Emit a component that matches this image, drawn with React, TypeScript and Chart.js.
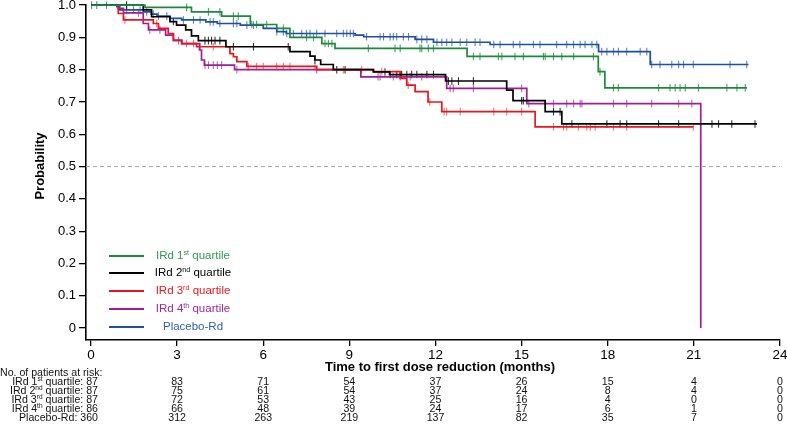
import React, { useEffect, useRef } from 'react';
import { Chart, registerables } from 'chart.js';

Chart.register(...registerables);

const FONT = '"Liberation Sans", Arial, Helvetica, sans-serif';

// Axis ticks
const xTicks = [0, 3, 6, 9, 12, 15, 18, 21, 24];
const yTicks = [0, 0.1, 0.2, 0.3, 0.4, 0.5, 0.6, 0.7, 0.8, 0.9, 1.0];
const yTickLabels = ['0', '0.1', '0.2', '0.3', '0.4', '0.5', '0.6', '0.7', '0.8', '0.9', '1.0'];

// IRd 1st quartile
const q1Times = [1.88, 3.5, 4.55, 5.55, 6.47, 6.93, 8.04, 8.5, 13.1, 17.67, 17.9];
const q1Surv = [0.993, 0.979, 0.966, 0.94, 0.928, 0.9, 0.881, 0.866, 0.841, 0.794, 0.744];
const q1End = 22.85;
const q1Censor = [3.33, 4.09, 4.49, 4.96, 5.13, 5.6, 5.77, 6.12, 6.7, 7.51, 7.75, 8.15, 8.27, 8.39, 9.66, 10.59, 10.77, 11.46, 11.52, 11.75, 11.93, 13.32, 13.55, 14.19, 14.31, 14.77, 15.06, 15.76, 15.82, 16.11, 16.4, 16.81, 17.5, 17.73, 18.2, 18.37, 19.77, 20.17, 20.35, 20.52, 20.7, 21.16, 22.15, 22.5, 22.79];

// IRd 2nd quartile
const q2Times = [1.82, 2.11, 2.75, 2.98, 3.3, 3.5, 3.74, 4.7, 6.93, 7.63, 7.8, 8.0, 8.44, 9.84, 10.4, 12.35, 14.48, 14.7, 15.82, 16.4];
const q2Surv = [0.985, 0.964, 0.949, 0.938, 0.923, 0.905, 0.89, 0.871, 0.856, 0.842, 0.83, 0.816, 0.8, 0.793, 0.785, 0.765, 0.737, 0.704, 0.67, 0.632];
const q2End = 23.2;
const q2Censor = [1.24, 2.87, 3.97, 4.09, 4.2, 4.32, 4.49, 4.96, 5.66, 6.87, 7.8, 8.56, 8.85, 10.24, 10.42, 10.65, 10.82, 11.0, 11.17, 11.35, 11.7, 11.93, 12.45, 12.57, 12.8, 13.32, 15.0, 15.06, 16.11, 16.34, 16.75, 17.97, 18.43, 18.66, 19.77, 20.47, 21.63, 21.86, 22.32, 23.13];

// IRd 3rd quartile
const q3Times = [0.95, 1.13, 2.17, 2.35, 2.69, 2.87, 3.16, 3.68, 4.84, 4.96, 5.08, 5.43, 7.86, 9.83, 10.77, 11.0, 11.29, 11.74, 12.22, 15.47];
const q3Surv = [0.974, 0.954, 0.943, 0.928, 0.912, 0.892, 0.881, 0.871, 0.85, 0.84, 0.825, 0.81, 0.8, 0.794, 0.773, 0.752, 0.732, 0.7, 0.67, 0.623];
const q3End = 20.98;
const q3Censor = [1.18, 2.29, 3.33, 3.57, 3.8, 4.26, 5.48, 5.77, 6.0, 6.47, 6.7, 6.93, 7.8, 8.79, 9.43, 10.13, 11.05, 11.8, 12.3, 12.39, 12.86, 14.03, 14.48, 15.0, 16.11, 16.46, 16.57, 16.98, 17.27, 17.39, 17.56, 18.2, 18.66, 20.98];

// IRd 4th quartile
const q4Times = [0.95, 1.13, 1.82, 2.0, 2.6, 2.87, 3.16, 3.78, 3.85, 3.95, 5.0, 9.4, 12.39, 15.18, 21.24];
const q4Surv = [0.99, 0.976, 0.943, 0.923, 0.907, 0.89, 0.881, 0.861, 0.83, 0.814, 0.8, 0.778, 0.742, 0.695, 0];
const q4End = 21.24;
const q4Censor = [1.65, 2.05, 2.4, 3.05, 3.97, 4.09, 4.26, 4.4, 4.55, 5.08, 7.86, 10.0, 10.07, 10.53, 10.77, 11.12, 11.52, 12.51, 12.62, 13.32, 15.0, 15.25, 15.82, 16.11, 16.57, 16.81, 17.04, 17.1, 18.2, 18.66, 19.53, 20.47, 20.93];

// Placebo-Rd
const pbTimes = [0.9, 1.0, 1.82, 2.1, 2.3, 2.75, 3.16, 4.0, 4.4, 5.2, 6.0, 6.47, 6.8, 9.2, 9.5, 11.29, 11.93, 13.9, 17.68, 19.48];
const pbSurv = [0.995, 0.985, 0.979, 0.972, 0.966, 0.959, 0.954, 0.948, 0.943, 0.938, 0.928, 0.918, 0.912, 0.907, 0.902, 0.894, 0.885, 0.878, 0.856, 0.816];
const pbEnd = 22.9;
const pbCensor = [0.02, 0.2, 0.54, 1.24, 1.48, 1.71, 1.94, 2.17, 2.35, 2.64, 3.22, 3.57, 3.8, 4.15, 4.26, 4.49, 4.96, 5.08, 5.43, 5.66, 6.47, 6.7, 6.82, 7.05, 7.34, 7.51, 7.63, 7.86, 8.15, 8.56, 8.79, 8.91, 9.03, 9.14, 9.6, 10.07, 10.19, 10.42, 10.53, 10.65, 10.88, 11.06, 11.35, 11.52, 11.7, 12.05, 12.22, 12.39, 12.57, 12.86, 13.09, 13.38, 13.55, 14.03, 14.25, 14.71, 14.94, 15.41, 15.64, 16.22, 16.57, 16.81, 17.04, 17.21, 17.45, 17.62, 17.79, 17.97, 18.2, 18.37, 18.66, 19.13, 19.36, 19.53, 19.82, 20.23, 20.47, 20.64, 20.98, 22.26, 22.84];

// Numbers at risk
const riskTimes = [0, 3, 6, 9, 12, 15, 18, 21, 24];
const riskQ1 = [87, 83, 71, 54, 37, 26, 15, 4, 0];
const riskQ2 = [87, 75, 61, 54, 37, 24, 8, 4, 0];
const riskQ3 = [87, 72, 53, 43, 25, 16, 4, 0, 0];
const riskQ4 = [86, 66, 48, 39, 24, 17, 6, 1, 0];
const riskPlacebo = [360, 312, 263, 219, 137, 82, 35, 7, 0];

type Part = { t: string; sup?: boolean };
const labelQ1: Part[] = [{ t: 'IRd 1' }, { t: 'st', sup: true }, { t: ' quartile' }];
const labelQ2: Part[] = [{ t: 'IRd 2' }, { t: 'nd', sup: true }, { t: ' quartile' }];
const labelQ3: Part[] = [{ t: 'IRd 3' }, { t: 'rd', sup: true }, { t: ' quartile' }];
const labelQ4: Part[] = [{ t: 'IRd 4' }, { t: 'th', sup: true }, { t: ' quartile' }];
const labelPb: Part[] = [{ t: 'Placebo-Rd' }];

const series = [
  { label: labelQ1, times: q1Times, surv: q1Surv, end: q1End, censor: q1Censor, risk: riskQ1, color: '#1c8a3c', text: '#2e9b4c', cColor: 'rgba(28,138,60,0.8)' },
  { label: labelQ2, times: q2Times, surv: q2Surv, end: q2End, censor: q2Censor, risk: riskQ2, color: '#000000', text: '#000000', cColor: 'rgba(0,0,0,0.8)' },
  { label: labelQ3, times: q3Times, surv: q3Surv, end: q3End, censor: q3Censor, risk: riskQ3, color: '#e8161b', text: '#e8161b', cColor: 'rgba(232,22,27,0.6)' },
  { label: labelQ4, times: q4Times, surv: q4Surv, end: q4End, censor: q4Censor, risk: riskQ4, color: '#a01f99', text: '#a3239c', cColor: 'rgba(160,31,153,0.7)' },
  { label: labelPb, times: pbTimes, surv: pbSurv, end: pbEnd, censor: pbCensor, risk: riskPlacebo, color: '#1f4fa0', text: '#3060b0', cColor: 'rgba(31,79,160,0.7)' },
];

function survAt(times: number[], surv: number[], t: number) {
  let s = 1;
  for (let i = 0; i < times.length; i++) {
    if (times[i] <= t) s = surv[i];
  }
  return s;
}

function stepPoints(times: number[], surv: number[], end: number) {
  const pts = [{ x: 0, y: 1 }];
  times.forEach((t, i) => pts.push({ x: t, y: surv[i] }));
  const last = times[times.length - 1];
  if (end > last) pts.push({ x: end, y: surv[surv.length - 1] });
  return pts;
}

function drawRich(ctx: CanvasRenderingContext2D, parts: Part[], x: number, y: number, align: string, size: number, color: string) {
  let total = 0;
  const widths = parts.map((p) => {
    ctx.font = `${p.sup ? size * 0.62 : size}px ${FONT}`;
    const w = ctx.measureText(p.t).width;
    total += w;
    return w;
  });
  let cx = align === 'center' ? x - total / 2 : align === 'right' ? x - total : x;
  ctx.textAlign = 'left';
  ctx.textBaseline = 'middle';
  ctx.fillStyle = color;
  parts.forEach((p, i) => {
    ctx.font = `${p.sup ? size * 0.62 : size}px ${FONT}`;
    ctx.fillText(p.t, cx, p.sup ? y - size * 0.3 : y);
    cx += widths[i];
  });
  return total;
}

const extras = {
  id: 'kmExtras',
  beforeDatasetsDraw(chart: any) {
    const { ctx, chartArea, scales } = chart;
    const y = scales.y.getPixelForValue(0.5);
    ctx.save();
    ctx.strokeStyle = '#a8a8a8';
    ctx.lineWidth = 1;
    ctx.setLineDash([4, 3]);
    ctx.beginPath();
    ctx.moveTo(chartArea.left, y);
    ctx.lineTo(chartArea.right, y);
    ctx.stroke();
    ctx.restore();
  },
  afterDraw(chart: any) {
    const { ctx, scales } = chart;
    ctx.save();
    // legend
    const legY = [256, 273, 291, 309, 327];
    series.forEach((s, i) => {
      ctx.strokeStyle = s.color;
      ctx.lineWidth = 2;
      ctx.setLineDash([]);
      ctx.beginPath();
      ctx.moveTo(109, legY[i]);
      ctx.lineTo(144, legY[i]);
      ctx.stroke();
      drawRich(ctx, s.label, 193, legY[i], 'center', 11.5, s.text);
    });
    // y title
    ctx.save();
    ctx.translate(40, 166);
    ctx.rotate(-Math.PI / 2);
    ctx.font = `bold 13px ${FONT}`;
    ctx.fillStyle = '#000';
    ctx.textAlign = 'center';
    ctx.textBaseline = 'middle';
    ctx.fillText('Probability', 0, 0);
    ctx.restore();
    // x title
    ctx.font = `bold 13px ${FONT}`;
    ctx.fillStyle = '#000';
    ctx.textAlign = 'center';
    ctx.textBaseline = 'middle';
    ctx.fillText('Time to first dose reduction (months)', 440, 367);
    // risk table
    const rs = 10.6;
    ctx.font = `${rs}px ${FONT}`;
    ctx.textAlign = 'left';
    ctx.fillStyle = '#111';
    ctx.fillText('No. of patients at risk:', 0, 373);
    const rowY = [382, 391, 400, 409, 418];
    series.forEach((s, i) => {
      const y = rowY[i];
      ctx.font = `${rs}px ${FONT}`;
      const first = String(s.risk[0]);
      const fw = ctx.measureText(first).width;
      const numRight = 98;
      ctx.textAlign = 'right';
      ctx.fillStyle = '#111';
      ctx.fillText(first, numRight, y);
      drawRich(ctx, [...s.label, { t: ':' }], numRight - fw - 3, y, 'right', rs, '#111');
      ctx.font = `${rs}px ${FONT}`;
      ctx.fillStyle = '#111';
      ctx.textAlign = 'center';
      for (let k = 1; k < riskTimes.length; k++) {
        ctx.fillText(String(s.risk[k]), scales.x.getPixelForValue(riskTimes[k]), y);
      }
    });
    ctx.restore();
  },
};

export default function App() {
  const ref = useRef<HTMLCanvasElement>(null);
  useEffect(() => {
    if (!ref.current) return;
    const datasets: any[] = [];
    series.forEach((s) => {
      datasets.push({
        data: stepPoints(s.times, s.surv, s.end),
        showLine: true,
        stepped: 'before',
        borderColor: s.color,
        borderWidth: 1.7,
        pointRadius: 0,
        fill: false,
        clip: false,
      });
    });
    series.forEach((s) => {
      datasets.push({
        data: s.censor.map((t) => ({ x: t, y: survAt(s.times, s.surv, t) })),
        showLine: false,
        pointStyle: 'line',
        rotation: 90,
        pointRadius: 3.8,
        pointBorderWidth: 1.1,
        borderColor: s.cColor,
        backgroundColor: s.cColor,
        pointBorderColor: s.cColor,
        clip: false,
      });
    });
    const chart = new Chart(ref.current, {
      type: 'scatter',
      data: { datasets },
      plugins: [extras],
      options: {
        responsive: false,
        animation: false,
        devicePixelRatio: 1,
        layout: { padding: { top: 5, right: 7, left: 0, bottom: 0 } },
        plugins: { legend: { display: false }, tooltip: { enabled: false } },
        scales: {
          x: {
            type: 'linear',
            min: -0.174,
            max: 24,
            afterBuildTicks: (s: any) => { s.ticks = xTicks.map((v) => ({ value: v })); },
            afterFit: (s: any) => { s.height = 87; s.paddingLeft = 0; s.paddingRight = 0; },
            ticks: { font: { family: FONT, size: 13.5 }, color: '#000', padding: 1, maxRotation: 0, autoSkip: false, callback: (v: any) => String(v) },
            grid: { drawOnChartArea: false, drawTicks: true, tickLength: 6, color: '#000', lineWidth: 1.3 },
            border: { display: true, color: '#000', width: 1.6 },
          },
          y: {
            type: 'linear',
            min: -0.037,
            max: 1.0,
            afterBuildTicks: (s: any) => { s.ticks = yTicks.map((v) => ({ value: v })); },
            afterFit: (s: any) => { s.width = 86; s.paddingTop = 0; s.paddingBottom = 0; },
            ticks: { font: { family: FONT, size: 13 }, color: '#000', padding: 3, autoSkip: false, callback: (v: any) => yTickLabels[yTicks.indexOf(v)] ?? '' },
            grid: { drawOnChartArea: false, drawTicks: true, tickLength: 7, color: '#000', lineWidth: 1.3 },
            border: { display: true, color: '#000', width: 1.6 },
          },
        },
      } as any,
    });
    return () => chart.destroy();
  }, []);
  return (
    <div style={{ position: 'absolute', left: 0, top: 0, width: 787, height: 427, background: '#fff' }}>
      <canvas ref={ref} width={787} height={427} style={{ width: 787, height: 427, display: 'block' }} />
    </div>
  );
}
